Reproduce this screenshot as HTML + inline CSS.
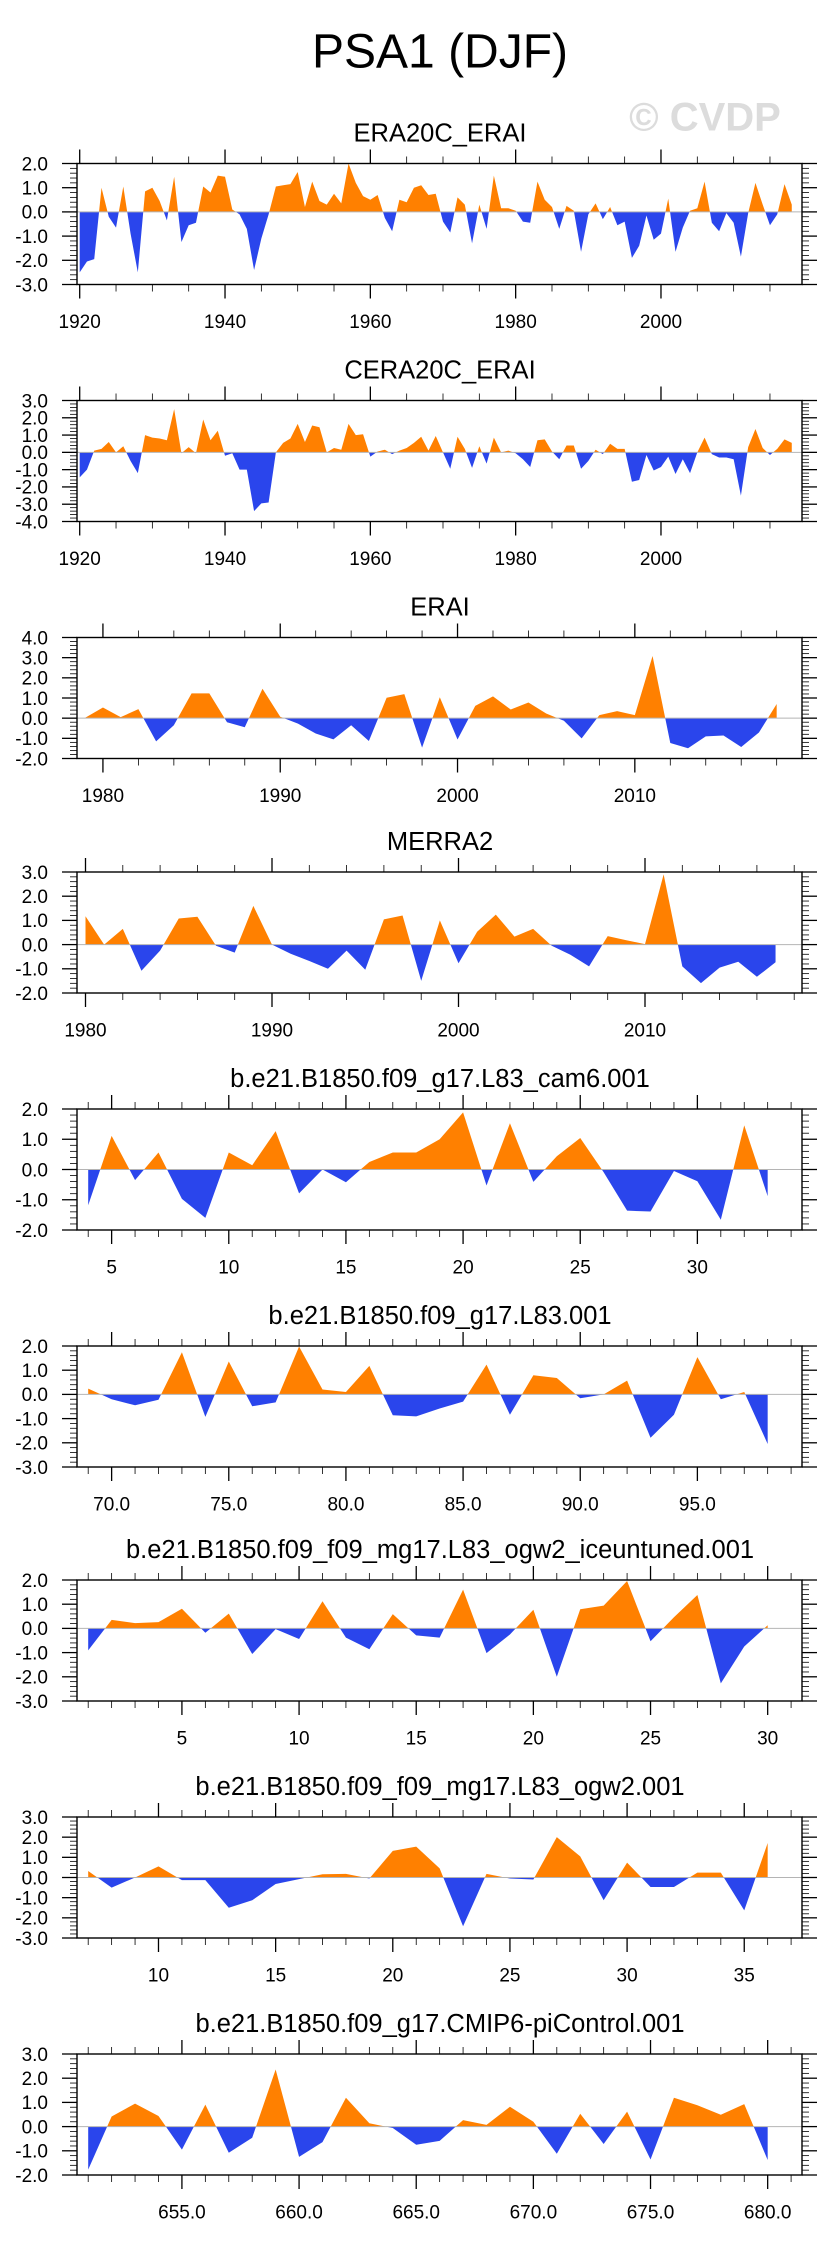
<!DOCTYPE html>
<html><head><meta charset="utf-8">
<style>
html,body{margin:0;padding:0;background:#fff;}
svg{display:block;font-family:"Liberation Sans",Arial,sans-serif;}
</style></head>
<body>
<svg id="chart" width="829" height="2245" viewBox="0 0 829 2245" xmlns="http://www.w3.org/2000/svg">
<rect x="0" y="0" width="829" height="2245" fill="#fff"/>
<text x="440" y="67.5" font-size="48" text-anchor="middle" fill="#000">PSA1 (DJF)</text>
<text x="705" y="130.5" font-size="40" font-weight="bold" text-anchor="middle" fill="#dcdcdc">© CVDP</text>
<g id="panels"></g>
</svg>
<script>
// ---- data ----
const era20cYears = [1920, 2018];
const era20cValues = [-2.5,-2.05,-1.95,1.0,-0.2,-0.65,1.05,-0.9,-2.5,0.85,1.0,0.45,-0.35,1.45,-1.25,-0.55,-0.45,1.05,0.8,1.5,1.45,0.1,-0.1,-0.7,-2.4,-1.1,-0.1,1.05,1.1,1.15,1.65,0.2,1.25,0.45,0.3,0.75,0.35,2.0,1.2,0.65,0.5,0.7,-0.25,-0.8,0.5,0.4,1.0,1.1,0.7,0.75,-0.4,-0.85,0.6,0.3,-1.3,0.3,-0.7,1.5,0.15,0.15,0.05,-0.4,-0.45,1.25,0.5,0.2,-0.7,0.25,0.05,-1.65,-0.1,0.35,-0.3,0.2,-0.55,-0.4,-1.9,-1.4,-0.15,-1.15,-0.9,0.55,-1.65,-0.65,0.05,0.15,1.25,-0.45,-0.8,-0.05,-0.45,-1.85,-0.05,1.2,0.3,-0.55,-0.1,1.15,0.3];
const cera20cValues = [-1.45,-1.0,0.1,0.2,0.6,0.0,0.35,-0.5,-1.2,1.0,0.85,0.8,0.7,2.5,-0.05,0.3,-0.05,1.9,0.7,1.25,-0.2,-0.05,-1.0,-1.0,-3.4,-2.95,-2.9,0.0,0.55,0.8,1.65,0.6,1.55,1.45,0.0,0.25,0.15,1.65,1.0,1.05,-0.25,0.05,0.15,-0.1,0.1,0.25,0.55,0.9,0.1,0.95,0.0,-0.95,0.9,0.2,-0.9,0.35,-0.65,0.85,0.0,0.1,-0.05,-0.4,-0.85,0.7,0.75,0.05,-0.4,0.4,0.4,-0.95,-0.5,0.15,-0.1,0.5,0.2,0.2,-1.7,-1.6,-0.15,-1.05,-0.85,-0.25,-1.25,-0.4,-1.2,0.0,0.85,-0.1,-0.3,-0.3,-0.4,-2.5,0.3,1.35,0.25,-0.15,0.2,0.75,0.55];
const eraiValues = [0.02,0.53,0.05,0.45,-1.15,-0.35,1.23,1.23,-0.2,-0.45,1.46,0.07,-0.27,-0.76,-1.05,-0.35,-1.13,1.01,1.19,-1.46,1.04,-1.06,0.61,1.08,0.43,0.78,0.23,-0.13,-1.0,0.15,0.35,0.15,3.08,-1.23,-1.49,-0.9,-0.86,-1.43,-0.71,0.7];
const merra2Values = [1.17,0.0,0.65,-1.08,-0.25,1.08,1.15,-0.05,-0.33,1.6,0.0,-0.38,-0.68,-1.0,-0.25,-1.04,1.04,1.2,-1.5,1.0,-0.77,0.53,1.24,0.33,0.65,-0.05,-0.42,-0.9,0.35,0.18,0.02,2.9,-0.9,-1.59,-0.95,-0.71,-1.33,-0.73];
const cam6Values = [-1.18,1.11,-0.35,0.56,-0.97,-1.6,0.56,0.14,1.27,-0.79,0.0,-0.42,0.25,0.56,0.56,1.0,1.89,-0.53,1.53,-0.41,0.44,1.04,-0.09,-1.36,-1.39,-0.05,-0.39,-1.66,1.46,-0.88];
const l83Values = [0.24,-0.2,-0.45,-0.22,1.74,-0.93,1.36,-0.49,-0.33,1.98,0.2,0.1,1.18,-0.86,-0.91,-0.58,-0.3,1.23,-0.84,0.79,0.68,-0.16,0.0,0.57,-1.79,-0.84,1.54,-0.2,0.1,-2.05];
const iceValues = [-0.91,0.35,0.22,0.26,0.81,-0.18,0.61,-1.06,-0.03,-0.44,1.12,-0.38,-0.86,0.59,-0.29,-0.38,1.6,-1.02,-0.25,0.77,-2.0,0.79,0.94,1.96,-0.53,0.46,1.38,-2.27,-0.75,0.13];
const ogw2Values = [0.32,-0.5,0.0,0.55,-0.13,-0.13,-1.5,-1.13,-0.32,-0.08,0.16,0.18,-0.05,1.32,1.53,0.45,-2.42,0.18,-0.05,-0.1,2.0,1.05,-1.13,0.74,-0.47,-0.47,0.24,0.24,-1.63,1.71];
const picValues = [-1.78,0.42,0.95,0.44,-0.95,0.91,-1.08,-0.46,2.36,-1.25,-0.64,1.19,0.14,-0.06,-0.75,-0.59,0.27,0.07,0.82,0.2,-1.12,0.53,-0.72,0.62,-1.36,1.19,0.88,0.49,0.93,-1.38];
const panelTitles = ["ERA20C_ERAI","CERA20C_ERAI","ERAI","MERRA2","b.e21.B1850.f09_g17.L83_cam6.001","b.e21.B1850.f09_g17.L83.001","b.e21.B1850.f09_f09_mg17.L83_ogw2_iceuntuned.001","b.e21.B1850.f09_f09_mg17.L83_ogw2.001","b.e21.B1850.f09_g17.CMIP6-piControl.001"];
const panelStarts = [1920,1920,1979,1980,4,69,1,7,651];
const yMax = [2,3,4,3,2,2,2,3,3];
const yMin = [-3,-4,-2,-2,-2,-3,-3,-3,-2];
const xMajorStep = [20,20,10,10,5,5,5,5,5];
const xMinorStep = [5,5,2,2,1,1,1,1,1];
const xLabelDecimals = [0,0,0,0,0,1,0,0,1];

// ---- layout (not data) ----
const allValues = [era20cValues,cera20cValues,eraiValues,merra2Values,cam6Values,l83Values,iceValues,ogw2Values,picValues];
const frameTops = [163.5,400.5,637.5,872,1109,1346,1580,1817,2054];
const FH = 121, FL = 77, FR = 802;
// x mapping: [pixel of first data point, pixels per unit]
const xMaps = [[79.7,7.266],[79.7,7.266],[85.2,17.73],[85.5,18.65],[88.2,23.43],[88.2,23.43],[88.2,23.43],[88.2,23.43],[88.2,23.43]];

const NS = "http://www.w3.org/2000/svg";
const root = document.getElementById('panels');
function mk(tag, attrs, parent){
  const e = document.createElementNS(NS, tag);
  for (const k in attrs) e.setAttribute(k, attrs[k]);
  (parent||root).appendChild(e);
  return e;
}

for (let p = 0; p < 9; p++) {
  const vals = allValues[p];
  const top = frameTops[p], bot = top + FH;
  const y0 = yMax[p], y1 = yMin[p];
  const ys = v => top + (y0 - v) / (y0 - y1) * FH;
  const start = panelStarts[p];
  const xs = t => xMaps[p][0] + (t - start) * xMaps[p][1];
  const g = mk('g', {});
  
  

  const tt = mk('text', {x: 440, y: top - 22, 'font-size': 25.5, 'text-anchor': 'middle', fill: '#000'}, g);
  tt.textContent = panelTitles[p];
  
  

  // clip paths
  const defs = mk('defs', {}, g);
  const zy = ys(0);
  const cpA = mk('clipPath', {id: 'ca' + p}, defs);
  mk('rect', {x: FL, y: top, width: FR - FL, height: zy - top}, cpA);
  const cpB = mk('clipPath', {id: 'cb' + p}, defs);
  mk('rect', {x: FL, y: zy, width: FR - FL, height: bot - zy}, cpB);

  let d = 'M' + xs(start).toFixed(2) + ',' + zy.toFixed(2);
  vals.forEach((v, i) => { d += ' L' + xs(start + i).toFixed(2) + ',' + ys(v).toFixed(2); });
  d += ' L' + xs(start + vals.length - 1).toFixed(2) + ',' + zy.toFixed(2) + ' Z';
  const pa = mk('path', {d: d, fill: '#ff8000', 'clip-path': 'url(#ca' + p + ')'}, g);
  
  
  const pb = mk('path', {d: d, fill: '#2a45ec', 'clip-path': 'url(#cb' + p + ')'}, g);
  
  

  const zl = mk('line', {x1: FL, x2: FR, y1: zy, y2: zy, stroke: '#b4b4b4', 'stroke-width': 1}, g);
  
  

  // y ticks
  for (let k = 0; ; k++) {
    const v = y1 + k * 0.2;
    if (v > y0 + 1e-6) break;
    const yy = ys(v);
    const major = Math.abs(v - Math.round(v)) < 1e-6;
    const len = major ? 15 : 7;
    mk('line', {x1: FL - len, x2: FL, y1: yy, y2: yy, stroke: '#000', 'stroke-width': major ? 1.3 : 0.8}, g);
    mk('line', {x1: FR, x2: FR + len, y1: yy, y2: yy, stroke: '#000', 'stroke-width': major ? 1.3 : 0.8}, g);
    if (major) {
      const lb = mk('text', {x: 48, y: yy + 6.8, 'font-size': 19, 'text-anchor': 'end', fill: '#000'}, g);
      lb.textContent = Math.round(v).toFixed(1);
      
      
    }
  }
  // x ticks
  const mi = xMinorStep[p], ma = xMajorStep[p];
  let t0 = Math.ceil((start - 10) / mi) * mi;
  for (let t = t0; ; t += mi) {
    const xx = xs(t);
    if (xx > FR) break;
    if (xx < FL) continue;
    const major = (t % ma) === 0;
    const len = major ? 14 : 7;
    mk('line', {x1: xx, x2: xx, y1: top - len, y2: top, stroke: '#000', 'stroke-width': major ? 1.3 : 0.8}, g);
    mk('line', {x1: xx, x2: xx, y1: bot, y2: bot + len, stroke: '#000', 'stroke-width': major ? 1.3 : 0.8}, g);
    if (major) {
      const lb = mk('text', {x: xx, y: bot + 43.5, 'font-size': 19, 'text-anchor': 'middle', fill: '#000'}, g);
      lb.textContent = t.toFixed(xLabelDecimals[p]);
      
      
    }
  }
  const fr = mk('rect', {x: FL, y: top, width: FR - FL, height: FH, fill: 'none', stroke: '#000', 'stroke-width': 1.4}, g);
  
  
}
</script>
</body></html>
